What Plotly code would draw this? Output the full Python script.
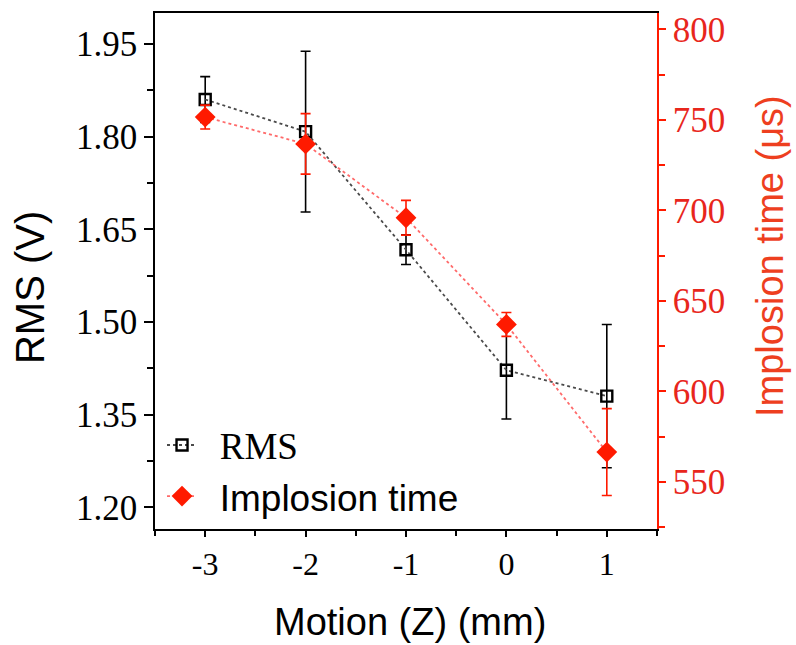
import plotly.graph_objects as go

# Axial motion (mm)
motion_z = [-3, -2, -1, 0, 1]

# RMS voltage (V) with error
rms_v = [1.860, 1.808, 1.617, 1.422, 1.380]
rms_err = [0.037, 0.130, 0.024, 0.079, 0.116]

# Implosion time (us) with error
implosion_us = [751.5, 736.7, 695.9, 637.0, 566.5]
implosion_err = [6.6, 16.7, 9.6, 6.6, 24.0]

x_ticks = [-3, -2, -1, 0, 1]
rms_ticks = [1.20, 1.35, 1.50, 1.65, 1.80, 1.95]
time_ticks = [550, 600, 650, 700, 750, 800]

SERIF = "Liberation Serif, Times New Roman, serif"
SANS = "Liberation Sans, Arial, sans-serif"
RED = "#ff1a00"
RED_TXT = "#e8261c"
RED_TITLE = "#ee3f1f"
GAP = "\u00a0\u2009"

fig = go.Figure()

fig.add_trace(go.Scatter(
    x=motion_z, y=rms_v,
    name=GAP + "<span style='font-family:Liberation Serif, Times New Roman, serif'>RMS</span>",
    mode="lines+markers",
    line=dict(color="#4a4a4a", width=1.8, dash="dot"),
    marker=dict(symbol="square-open", size=11, color="black", line=dict(width=2.4, color="black")),
    error_y=dict(type="data", array=rms_err, visible=True, color="black", thickness=1.6, width=5),
    yaxis="y",
))

fig.add_trace(go.Scatter(
    x=motion_z, y=implosion_us,
    name=GAP + "Implosion time",
    mode="lines+markers",
    line=dict(color="#ff6a6a", width=1.8, dash="dot"),
    marker=dict(symbol="diamond", size=16, color=RED, line=dict(width=0)),
    error_y=dict(type="data", array=implosion_err, visible=True, color=RED, thickness=1.6, width=5),
    yaxis="y2",
))

fig.update_layout(
    width=796, height=645,
    margin=dict(l=155, r=139, t=11, b=116),
    paper_bgcolor="white", plot_bgcolor="white",
    showlegend=True,
    legend=dict(
        x=0.014, y=0.222, xanchor="left", yanchor="top",
        bgcolor="rgba(0,0,0,0)", borderwidth=0,
        font=dict(family=SANS, size=37, color="black"),
        tracegroupgap=0, itemwidth=30,
    ),
    xaxis=dict(
        range=[-3.5, 1.5],
        tickmode="array", tickvals=x_ticks, ticktext=[str(v) for v in x_ticks],
        ticks="outside", ticklen=6, tickwidth=1.5, tickcolor="black",
        minor=dict(dtick=0.5, tick0=-3.5, ticks="outside", ticklen=5, tickwidth=1.5, tickcolor="black", showgrid=False),
        showline=True, linecolor="black", linewidth=1.5, mirror=True,
        showgrid=False, zeroline=False,
        tickfont=dict(family=SERIF, size=32, color="black"),
    ),
    yaxis=dict(
        range=[1.165, 2.0],
        tickmode="array", tickvals=rms_ticks, ticktext=[f"{v:.2f}" for v in rms_ticks],
        ticks="outside", ticklen=9, tickwidth=1.5, tickcolor="black",
        minor=dict(dtick=0.075, tick0=1.2, ticks="outside", ticklen=6, tickwidth=1.5, tickcolor="black", showgrid=False),
        showline=True, linecolor="black", linewidth=1.5,
        showgrid=False, zeroline=False,
        tickfont=dict(family=SERIF, size=35, color="black"),
    ),
    yaxis2=dict(
        range=[524, 809],
        overlaying="y", side="right",
        tickmode="array", tickvals=time_ticks, ticktext=[str(v) for v in time_ticks],
        ticks="outside", ticklen=7, tickwidth=1.5, tickcolor=RED,
        minor=dict(dtick=25, tick0=550, ticks="outside", ticklen=6, tickwidth=1.5, tickcolor=RED, showgrid=False),
        showline=True, linecolor=RED, linewidth=1.5,
        showgrid=False, zeroline=False,
        tickfont=dict(family=SERIF, size=35, color=RED_TXT),
    ),
    annotations=[
        dict(text="Motion (Z) (mm)", xref="paper", yref="paper", x=0.508, y=-0.181,
             xanchor="center", yanchor="middle", showarrow=False,
             font=dict(family=SANS, size=38, color="black")),
        dict(text="RMS (V)", xref="paper", yref="paper", x=-0.249, y=0.467,
             xanchor="center", yanchor="middle", showarrow=False, textangle=-90,
             font=dict(family=SANS, size=40, color="black")),
        dict(text="Implosion time (μs)", xref="paper", yref="paper", x=1.225, y=0.529,
             xanchor="center", yanchor="middle", showarrow=False, textangle=-90,
             font=dict(family=SANS, size=38, color=RED_TITLE)),
    ],
)

fig.write_html("out.html")
